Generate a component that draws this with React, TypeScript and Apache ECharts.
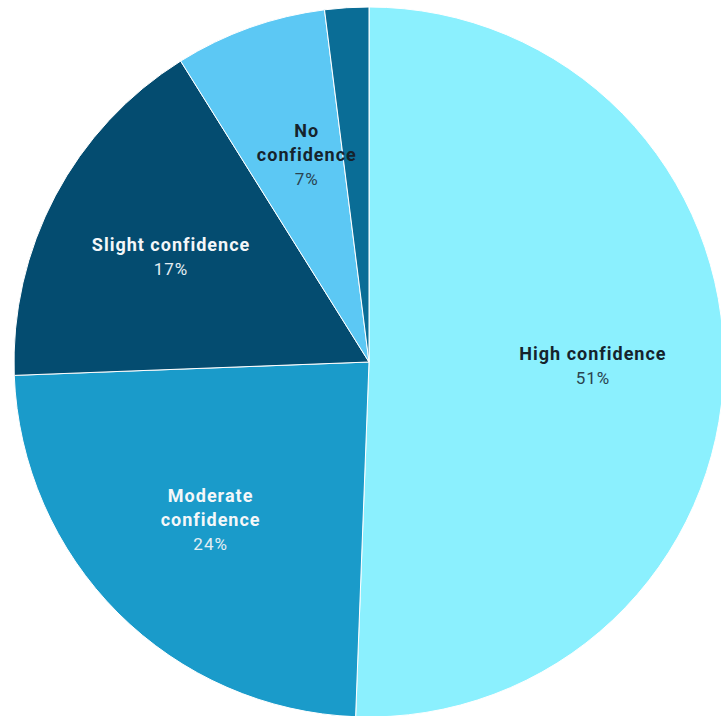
import React, { useEffect, useRef } from "react";
import * as echarts from "echarts";

const categories = ["High confidence", "Moderate confidence", "Slight confidence", "No confidence", "Not sure"];
const values = [50.6, 23.8, 16.7, 6.9, 2.0];
const labelTexts = ["High confidence", "Moderate\nconfidence", "Slight confidence", "No\nconfidence", ""];
const showLabel = [true, true, true, true, false];
const sliceColors = ["#8BF0FE", "#1A9BCA", "#044C70", "#5CC8F4", "#0A6D96"];
const darkText = [true, false, false, true, true];

export default function App() {
  const ref = useRef<HTMLDivElement>(null);
  useEffect(() => {
    if (!ref.current) return;
    const chart = echarts.init(ref.current, null, { renderer: "svg" });
    const center = [369, 362];
    const outerR = 355;
    chart.setOption({
      animation: false,
      backgroundColor: "#ffffff",
      series: [
        {
          type: "pie",
          center,
          radius: [0, outerR],
          startAngle: 90,
          clockwise: true,
          silent: true,
          label: { show: false },
          labelLine: { show: false },
          itemStyle: { borderColor: "#ffffff", borderWidth: 1 },
          data: categories.map((c, i) => ({
            name: c,
            value: values[i],
            itemStyle: { color: sliceColors[i] },
          })),
        },
        {
          type: "pie",
          center,
          radius: [87, outerR],
          startAngle: 90,
          clockwise: true,
          silent: true,
          labelLine: { show: false },
          itemStyle: { color: "rgba(0,0,0,0)", borderWidth: 0 },
          label: {
            position: "inside",
            fontFamily: "Roboto",
            formatter: (p: any) =>
              `{n|${labelTexts[p.dataIndex]}}\n{p|${Math.round(p.percent)}%}`,
          },
          data: categories.map((c, i) => {
            const dark = darkText[i];
            return {
              name: c,
              value: values[i],
              label: {
                show: showLabel[i],
                offset: i === 3 ? [13, 4] : [0, 0],
                rich: {
                  n: {
                    fontFamily: "Roboto",
                    fontWeight: "bold",
                    fontSize: 18,
                    lineHeight: 24,
                    align: "center",
                    color: dark ? "#15232c" : "#f4f7f9",
                  },
                  p: {
                    fontFamily: "Roboto",
                    fontSize: 17,
                    lineHeight: 25,
                    align: "center",
                    color: dark ? "#2a4350" : "#e4eef3",
                  },
                },
              },
            };
          }),
        },
      ],
    });
    return () => chart.dispose();
  }, []);
  return (
    <div
      ref={ref}
      style={{ position: "fixed", left: 0, top: 0, width: 721, height: 716, letterSpacing: "1px" }}
    />
  );
}
